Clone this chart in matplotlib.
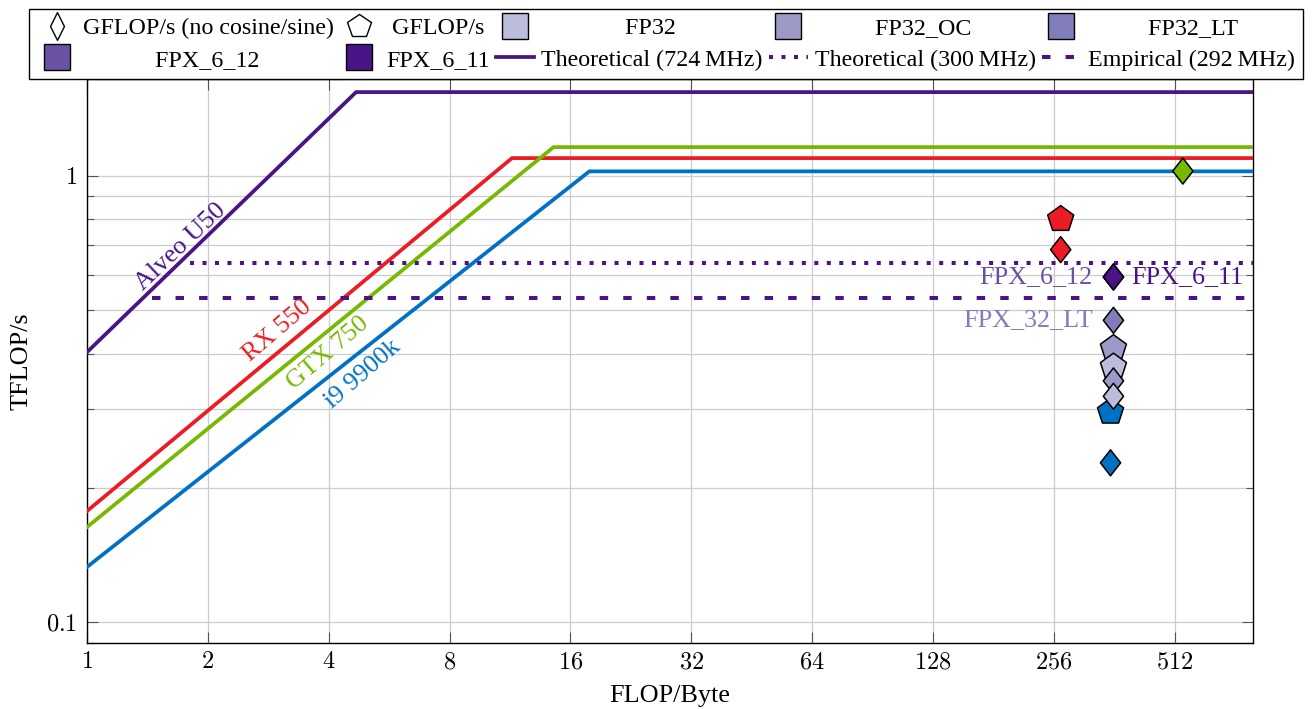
import matplotlib
matplotlib.use("Agg")
import matplotlib.pyplot as plt
from matplotlib.lines import Line2D
from matplotlib.path import Path
from matplotlib.ticker import FuncFormatter, LogLocator, NullLocator, NullFormatter

plt.rcParams["font.family"] = ["Liberation Serif", "DejaVu Serif"]
plt.rcParams["mathtext.fontset"] = "cm"

# rooflines (TFLOP/s at 1 FLOP/Byte, ridge point, peak)
devices = ["Alveo U50", "RX 550", "GTX 750", "i9 9900k"]
dev_colors = ["#4a1486", "#ed1c24", "#76b900", "#0071c5"]
roof_at_1 = [0.403, 0.1775, 0.1634, 0.133]
ridge_x = [4.68, 11.44, 14.52, 17.83]
peak = [1.542, 1.097, 1.161, 1.0245]
x_max = 800

# alveo ceilings for lower clock
ceil_values = [0.640, 0.534]
ceil_start = [1.81, 1.45]

# fpga variants
variants = ["FP32", "FP32_OC", "FP32_LT", "FPX_6_12", "FPX_6_11"]
var_colors = ["#bcbddc", "#9e9ac8", "#807dba", "#6a51a3", "#4a1486"]

# measured points with cosine/sine (pentagons), drawing order
pent_who = ["FP32_OC", "FP32", "i9 9900k", "RX 550"]
pent_x = [360, 360, 354, 266]
pent_y = [0.411, 0.3736, 0.296, 0.800]

# measured points without cosine/sine (diamonds)
diam_who = ["FP32_OC", "FP32", "FP32_LT", "FPX_6_12", "FPX_6_11", "i9 9900k", "RX 550", "GTX 750"]
diam_x = [360, 360, 360, 360, 360, 354, 266, 536]
diam_y = [0.3475, 0.321, 0.475, 0.594, 0.594, 0.2277, 0.684, 1.026]

color_of = dict(zip(devices + variants, dev_colors + var_colors))

FS = 18.8
LFS = 17.3
diamond = Path([(0, 1), (0.78, 0), (0, -1), (-0.78, 0), (0, 1)], closed=True)
thin_diamond = Path([(0, 1), (0.5, 0), (0, -1), (-0.5, 0), (0, 1)], closed=True)

fig = plt.figure(figsize=(13.12, 7.09), dpi=100)
ax = fig.add_axes([0.0663, 0.0935, 0.8885, 0.7951])
ax.set_xscale("log", base=2)
ax.set_yscale("log")
ax.set_xlim(1, x_max)
ax.set_ylim(0.09, 1.65)

# rooflines
for i in range(len(devices)):
    ax.plot([1, ridge_x[i], x_max], [roof_at_1[i], peak[i], peak[i]],
            color=dev_colors[i], lw=2.7, solid_joinstyle="miter", zorder=3)

ax.plot([ceil_start[0], x_max], [ceil_values[0], ceil_values[0]], color=dev_colors[0],
        lw=2.9, ls=(0, (1, 2.1)), zorder=3)
ax.plot([ceil_start[1], x_max], [ceil_values[1], ceil_values[1]], color=dev_colors[0],
        lw=2.9, ls=(0, (2.1, 3.75)), zorder=3)

# labels along the lines
line_labels = [(1.715, 0.6935, 43.5), (2.98, 0.449, 40.5), (3.99, 0.4018, 40.5), (4.86, 0.3597, 41)]
for i, (lx, ly, ang) in enumerate(line_labels):
    ax.text(lx, ly, devices[i], color=dev_colors[i], fontsize=FS, rotation=ang,
            rotation_mode="anchor", ha="center", va="center")

# measured points
ax.scatter(pent_x, pent_y, s=19.7 ** 2, marker="p", c=[color_of[w] for w in pent_who],
           edgecolors="black", linewidths=1.1, zorder=4)
ax.scatter(diam_x, diam_y, s=18.7 ** 2, marker=diamond, c=[color_of[w] for w in diam_who],
           edgecolors="black", linewidths=1.1, zorder=5)

ax.annotate("FPX_6_12", (diam_x[3], diam_y[3]), xytext=(-15, 0), textcoords="offset points",
            ha="right", va="center", fontsize=FS, color=color_of["FPX_6_12"])
ax.annotate("FPX_6_11", (diam_x[4], diam_y[4]), xytext=(12.5, 0), textcoords="offset points",
            ha="left", va="center", fontsize=FS, color=color_of["FPX_6_11"])
ax.annotate("FPX_32_LT", (diam_x[2], diam_y[2]), xytext=(-14.5, 0), textcoords="offset points",
            ha="right", va="center", fontsize=FS, color=color_of["FP32_LT"])

# axes styling
ax.set_xticks([2 ** k for k in range(10)])
ax.xaxis.set_major_formatter(FuncFormatter(lambda v, p: f"${v:g}$"))
ax.xaxis.set_minor_locator(NullLocator())
ax.yaxis.set_major_locator(LogLocator(base=10))
ax.yaxis.set_minor_locator(LogLocator(base=10, subs=range(2, 10)))
ax.yaxis.set_major_formatter(FuncFormatter(lambda v, p: f"${v:g}$"))
ax.yaxis.set_minor_formatter(NullFormatter())
ax.tick_params(which="both", direction="in", top=True, right=True, color="#555555",
               width=0.8, labelsize=17.5, pad=7)
ax.tick_params(which="major", length=8)
ax.tick_params(which="minor", length=5.3)
ax.grid(which="major", color="#cccccc", lw=0.9)
ax.grid(which="minor", axis="y", color="#cccccc", lw=0.9)
ax.set_axisbelow(True)
for sp in ax.spines.values():
    sp.set_linewidth(1.0)

ax.set_xlabel("FLOP/Byte", fontsize=FS, labelpad=8)
ax.set_ylabel("TFLOP/s", fontsize=FS, labelpad=10)

# legend, filled row by row
def sq(c):
    return Line2D([], [], ls="none", marker="s", ms=19, mfc=c, mec="black", mew=1.0)

row1 = [(Line2D([], [], ls="none", marker=thin_diamond, ms=20, mfc="white", mec="black", mew=1.0),
         "GFLOP/s (no cosine/sine)"),
        (Line2D([], [], ls="none", marker="p", ms=18, mfc="white", mec="black", mew=1.0), "GFLOP/s"),
        (sq(var_colors[0]), variants[0]),
        (sq(var_colors[1]), variants[1]),
        (sq(var_colors[2]), variants[2])]
row2 = [(sq(var_colors[3]), variants[3]),
        (sq(var_colors[4]), variants[4]),
        (Line2D([], [], color=dev_colors[0], lw=2.7), "Theoretical (724\u2009MHz)"),
        (Line2D([], [], color=dev_colors[0], lw=2.9, ls=(0, (1, 2.1))), "Theoretical (300\u2009MHz)"),
        (Line2D([], [], color=dev_colors[0], lw=2.9, ls=(0, (2.1, 3.75))), "Empirical (292\u2009MHz)")]
entries = []
for a, b in zip(row1, row2):
    entries += [a, b]

leg = fig.legend([e[0] for e in entries], [e[1] for e in entries], ncol=5, mode="expand",
                 loc="lower left", bbox_to_anchor=(29 / 1312, 1 - 79 / 709, 1274 / 1312, 72 / 709),
                 fontsize=LFS, frameon=True, fancybox=False, edgecolor="black", framealpha=1,
                 handlelength=1.6, handletextpad=0.3, labelspacing=0.4, borderpad=0.35,
                 columnspacing=0.3, borderaxespad=0)
leg.get_frame().set_linewidth(1.0)

# centre the shorter label of each legend column like pgfplots does
fig.canvas.draw()
r = fig.canvas.get_renderer()
probe = fig.text(0, 0, "a a", fontsize=LFS)
w_sp = probe.get_window_extent(r).width
probe.set_text("aa")
w_sp -= probe.get_window_extent(r).width
probe.remove()
texts = leg.get_texts()
for c in range(5):
    t1, t2 = texts[2 * c], texts[2 * c + 1]
    w1, w2 = t1.get_window_extent(r).width, t2.get_window_extent(r).width
    short, diff = (t1, w2 - w1) if w1 < w2 else (t2, w1 - w2)
    n = int(round(diff / 2 / w_sp))
    short.set_text(" " * n + short.get_text())

fig.savefig("out.png", dpi=100)
